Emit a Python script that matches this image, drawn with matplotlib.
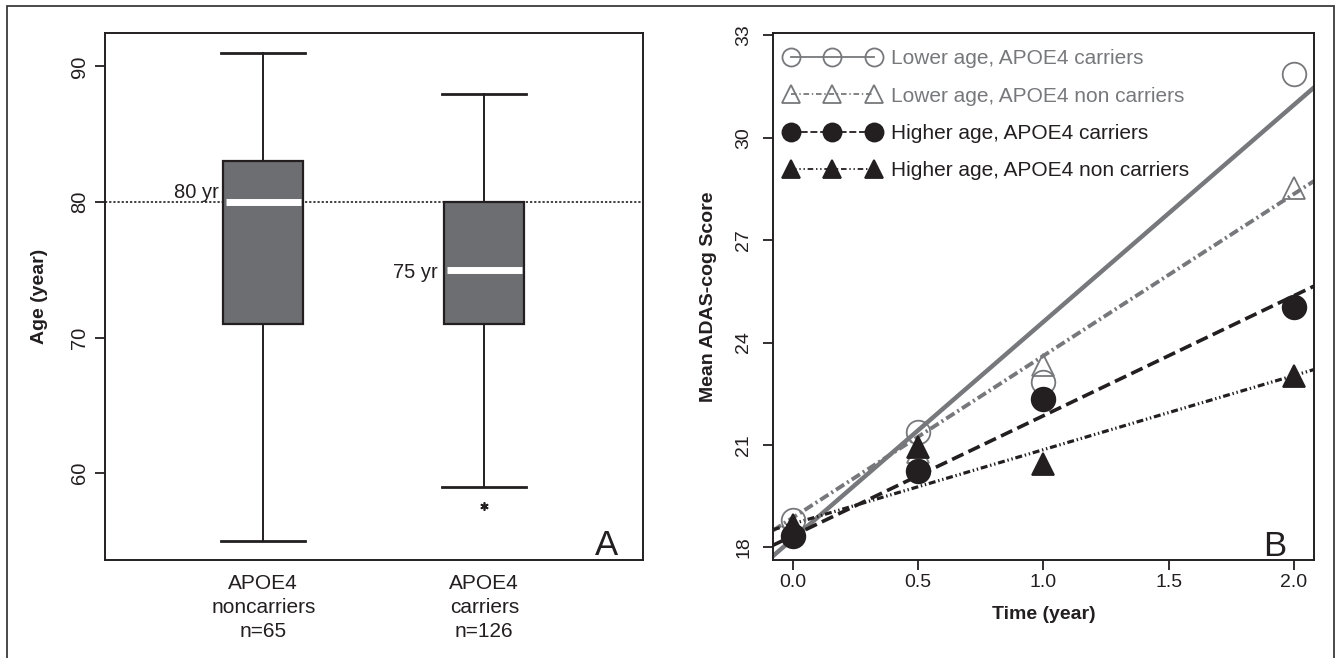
import matplotlib.pyplot as plt
from matplotlib.lines import Line2D
from matplotlib.patches import Rectangle
import numpy as np

plt.rcParams['font.family'] = ['Liberation Sans', 'DejaVu Sans']
plt.rcParams['lines.scale_dashes'] = False

INK = '#231f20'
GREY = '#77787b'
BOX_GREY = '#6d6e71'

# panel A: age by APOE4 status
groups = ['APOE4\nnoncarriers\nn=65', 'APOE4\ncarriers\nn=126']
age_q1 = [71, 71]
age_med = [80, 75]
age_q3 = [83, 80]
age_lo = [55, 59]
age_hi = [91, 88]
age_out = [[], [57.6]]
med_text = ['80 yr', '75 yr']
med_text_y = [80.3, 74.4]
cutoff_age = 80

# panel B: mean ADAS-cog over time
time_yr = [0, 0.5, 1, 2]
series_names = ['Lower age, APOE4 carriers', 'Lower age, APOE4 non carriers',
                'Higher age, APOE4 carriers', 'Higher age, APOE4 non carriers']
lower_car = [18.8, 21.37, 22.84, 31.87]
lower_non = [18.55, 20.8, 23.33, 28.52]
higher_car = [18.33, 20.24, 22.35, 25.05]
higher_non = [18.67, 20.95, 20.45, 23.03]
# fitted trend lines, intercept and slope
fit_b0 = [18.25, 18.87, 18.34, 18.69]
fit_b1 = [6.355, 4.74, 3.515, 2.172]

fig = plt.figure(figsize=(13.39, 6.58), dpi=100)
axA = fig.add_axes([0.0784, 0.1489, 0.4018, 0.8017])
axB = fig.add_axes([0.5773, 0.1489, 0.4040, 0.8002])

# ---- panel A ----
stats = []
for i in range(len(groups)):
    stats.append(dict(q1=age_q1[i], med=age_med[i], q3=age_q3[i],
                      whislo=age_lo[i], whishi=age_hi[i], fliers=age_out[i]))

box_w = 0.362
axA.axhline(cutoff_age, color=INK, ls=(0, (1.6, 1.4)), lw=1.2, zorder=1)
bp = axA.bxp(stats, positions=[1, 2], widths=box_w, capwidths=0.38,
             patch_artist=True, manage_ticks=False,
             boxprops=dict(facecolor=BOX_GREY, edgecolor=INK, linewidth=1.6),
             whiskerprops=dict(color=INK, linewidth=1.4),
             capprops=dict(color=INK, linewidth=2),
             medianprops=dict(color='white', linewidth=5, solid_capstyle='butt'),
             flierprops=dict(marker=(6, 2, 0), markersize=6, markeredgecolor=INK,
                             markeredgewidth=1.2),
             zorder=2)
for i, m in enumerate(bp['medians']):
    p = i + 1
    m.set_xdata([p - box_w / 2 + 0.012, p + box_w / 2 - 0.012])
    m.set_zorder(3)

axA.text(1 - box_w / 2 - 0.02, med_text_y[0], med_text[0], ha='right', va='baseline',
         fontsize=14.5, color=INK)
axA.text(2 - box_w / 2 - 0.028, med_text_y[1], med_text[1], ha='right', va='baseline',
         fontsize=14.5, color=INK)

axA.set_xlim(0.2837, 2.718)
axA.set_ylim(53.6, 92.5)
axA.set_xticks([1, 2])
axA.set_xticklabels(groups, linespacing=1.32)
axA.set_yticks([60, 70, 80, 90])
axA.tick_params(axis='x', length=0, pad=10, labelsize=15, colors=INK)
axA.tick_params(axis='y', length=7, width=1.3, pad=4.5, labelsize=14.5, colors=INK)
plt.setp(axA.get_yticklabels(), rotation=90, va='center')
axA.set_ylabel('Age (year)', fontsize=14, fontweight='bold', color=INK)
axA.yaxis.set_label_coords(-0.106, 0.5)
axA.text(0.9535, 0.0095, 'A', transform=axA.transAxes, ha='right', va='baseline',
         fontsize=25, color=INK)

# ---- panel B ----
line_styles = ['-', (0, (7, 2.5, 1.5, 2.5)), (0, (9, 4)), (0, (5, 2, 1, 2, 1, 2))]
line_colors = [GREY, GREY, INK, INK]
line_widths = [3.2, 2.8, 2.6, 2.3]
markers = ['o', '^', 'o', '^']
face_colors = ['none', 'none', INK, INK]
legend_ls = ['-', (0, (4, 2, 1, 2)), (0, (5, 2)), (0, (4, 2, 1, 2, 1, 2))]
series = [lower_car, lower_non, higher_car, higher_non]

xlim = (-0.079, 2.08)
x_fit = np.array(xlim)
for i in range(4):
    axB.plot(x_fit, fit_b0[i] + fit_b1[i] * x_fit, color=line_colors[i],
             lw=line_widths[i], ls=line_styles[i], zorder=2)

for i in range(4):
    ms = 17 if markers[i] == 'o' else 16
    axB.plot(time_yr, series[i], ls='none', marker=markers[i], ms=ms,
             mfc=face_colors[i], mec=line_colors[i], mew=1.3, zorder=3)

handles = []
for i in range(4):
    handles.append(Line2D([], [], color=line_colors[i], ls=legend_ls[i], lw=1.3,
                          marker=markers[i], ms=13, mfc=face_colors[i],
                          mec=line_colors[i], mew=1.3))
leg = axB.legend(handles, series_names, loc='upper left', bbox_to_anchor=(0.021, 0.970),
                 frameon=False, numpoints=3, handlelength=4.6, handletextpad=0.5,
                 labelspacing=0.88, borderaxespad=0, borderpad=0, fontsize=15)
for t, c in zip(leg.get_texts(), line_colors):
    t.set_color(c)

axB.set_xlim(*xlim)
axB.set_ylim(17.63, 33.05)
axB.set_xticks([0, 0.5, 1, 1.5, 2])
axB.set_yticks([18, 21, 24, 27, 30, 33])
axB.tick_params(axis='both', length=7, width=1.3, labelsize=14, colors=INK)
axB.tick_params(axis='x', pad=3)
axB.tick_params(axis='y', pad=8)
plt.setp(axB.get_yticklabels(), rotation=90, va='center')
axB.set_xlabel('Time (year)', fontsize=14, fontweight='bold', color=INK)
axB.xaxis.set_label_coords(0.5, -0.0864)
axB.set_ylabel('Mean ADAS-cog Score', fontsize=14, fontweight='bold', color=INK)
axB.yaxis.set_label_coords(-0.103, 0.5)
axB.text(0.948, 0.008, 'B', transform=axB.transAxes, ha='right', va='baseline',
         fontsize=25, color=INK)

for ax in (axA, axB):
    for s in ax.spines.values():
        s.set_linewidth(1.4)
        s.set_color(INK)

# outer frame around the whole figure
fig.add_artist(Rectangle((7 / 1339, -0.02), (1334 - 7) / 1339, 1 - 6 / 658 + 0.02,
                         transform=fig.transFigure, fill=False,
                         edgecolor='#3a3a3a', lw=1.3))

fig.savefig('out.png', dpi=100)
